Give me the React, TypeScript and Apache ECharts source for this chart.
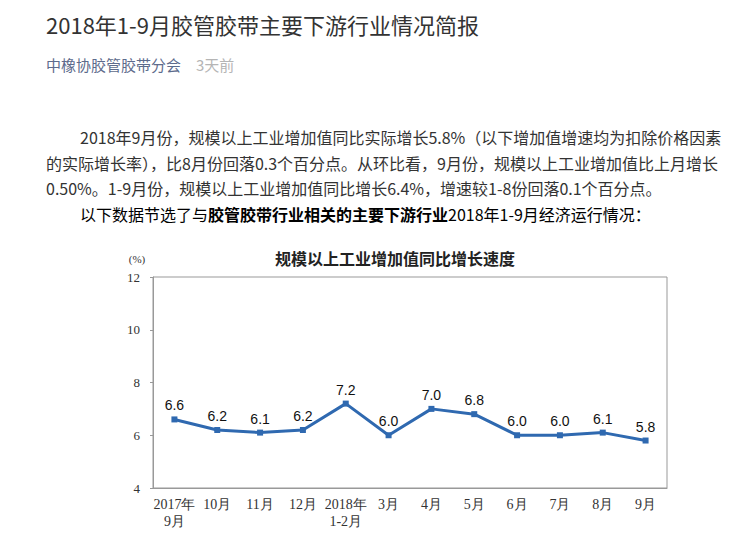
import React, { useEffect, useRef } from "react";
import * as echarts from "echarts";

const categories = [
  "2017年\n9月", "10月", "11月", "12月", "2018年\n1-2月", "3月",
  "4月", "5月", "6月", "7月", "8月", "9月",
];
const growth = [6.6, 6.2, 6.1, 6.2, 7.2, 6.0, 7.0, 6.8, 6.0, 6.0, 6.1, 5.8];
const yTicks = { min: 4, max: 12, interval: 2 };

const headTitle = "2018年1-9月胶管胶带主要下游行业情况简报";
const author = "中橡协胶管胶带分会";
const when = "3天前";
const paraLines = [
  "2018年9月份，规模以上工业增加值同比实际增长5.8%（以下增加值增速均为扣除价格因素",
  "的实际增长率），比8月份回落0.3个百分点。从环比看，9月份，规模以上工业增加值比上月增长",
  "0.50%。1-9月份，规模以上工业增加值同比增长6.4%，增速较1-8份回落0.1个百分点。",
];
const lastLine = ["以下数据节选了与", "胶管胶带行业相关的主要下游行业", "2018年1-9月经济运行情况："];
const chartTitle = "规模以上工业增加值同比增长速度";
const unit = "(%)";

const CJK = "'Noto Sans CJK SC', 'Noto Sans', sans-serif";
const SERIF = "'Liberation Serif', 'DejaVu Serif', serif";
const SANS = "'Liberation Sans', Arial, sans-serif";

export default function App() {
  const ref = useRef<HTMLDivElement>(null);
  useEffect(() => {
    document.body.style.margin = "0";
    const chart = echarts.init(ref.current!, null, { renderer: "svg" });
    const lineYs = [137, 163, 188];
    const lineXs = [80, 46, 46];
    const graphics: any[] = [
      {
        type: "text", x: 46, y: 24,
        style: { text: headTitle, fontSize: 22, fontFamily: CJK, fill: "#333", textVerticalAlign: "middle" },
      },
      {
        type: "text", x: 46, y: 64,
        style: { text: author, fontSize: 15, fontFamily: CJK, fill: "#5d6b8c", textVerticalAlign: "middle" },
      },
      {
        type: "text", x: 196, y: 64,
        style: { text: when, fontSize: 15, fontFamily: CJK, fill: "#b5b5b5", textVerticalAlign: "middle" },
      },
      ...paraLines.map((t, i) => ({
        type: "text", x: lineXs[i], y: lineYs[i],
        style: { text: t, fontSize: 16, fontFamily: CJK, fill: "#333", textVerticalAlign: "middle" },
      })),
      {
        type: "text", x: 80, y: 214,
        style: {
          text: `{n|${lastLine[0]}}{b|${lastLine[1]}}{n|${lastLine[2]}}`,
          textVerticalAlign: "middle",
          rich: {
            n: { fontSize: 16, fontFamily: CJK, color: "#333" },
            b: { fontSize: 16, fontFamily: CJK, color: "#1f3a8a", fontWeight: "bold" },
          },
        },
      },
      {
        type: "text", x: 395, y: 258,
        style: { text: chartTitle, fontSize: 16, fontFamily: CJK, fill: "#222", fontWeight: "bold", textAlign: "center", textVerticalAlign: "middle" },
      },
      {
        type: "text", x: 137, y: 259,
        style: { text: unit, fontSize: 11, fontFamily: SERIF, fill: "#333", textAlign: "center", textVerticalAlign: "middle" },
      },
    ];
    chart.setOption({
      animation: false,
      backgroundColor: "#fff",
      grid: { left: 153, top: 277, right: 85, bottom: 66, show: true, borderColor: "#999", borderWidth: 1 },
      xAxis: {
        type: "category",
        data: categories,
        boundaryGap: true,
        axisLine: { lineStyle: { color: "#999" } },
        axisTick: { inside: true, length: 4, lineStyle: { color: "#999" } },
        axisLabel: { fontFamily: SERIF, fontSize: 14, color: "#333", lineHeight: 17, margin: 8, interval: 0 },
      },
      yAxis: {
        type: "value",
        min: yTicks.min, max: yTicks.max, interval: yTicks.interval,
        axisLine: { show: true, lineStyle: { color: "#999" } },
        axisTick: { show: true, length: 3, lineStyle: { color: "#999" } },
        splitLine: { show: false },
        axisLabel: { fontFamily: SERIF, fontSize: 13, color: "#333", margin: 13 },
      },
      graphic: graphics,
      series: [
        {
          type: "line",
          data: growth,
          symbol: "rect",
          symbolSize: 6,
          itemStyle: { color: "#2f69b0" },
          lineStyle: { color: "#2f69b0", width: 3 },
          label: {
            show: true, position: "top", distance: 4,
            fontFamily: SANS, fontSize: 14, color: "#111",
            formatter: (p: any) => Number(p.value).toFixed(1),
          },
        },
      ],
    });
    return () => chart.dispose();
  }, []);
  return <div ref={ref} style={{ width: 752, height: 554 }} />;
}
